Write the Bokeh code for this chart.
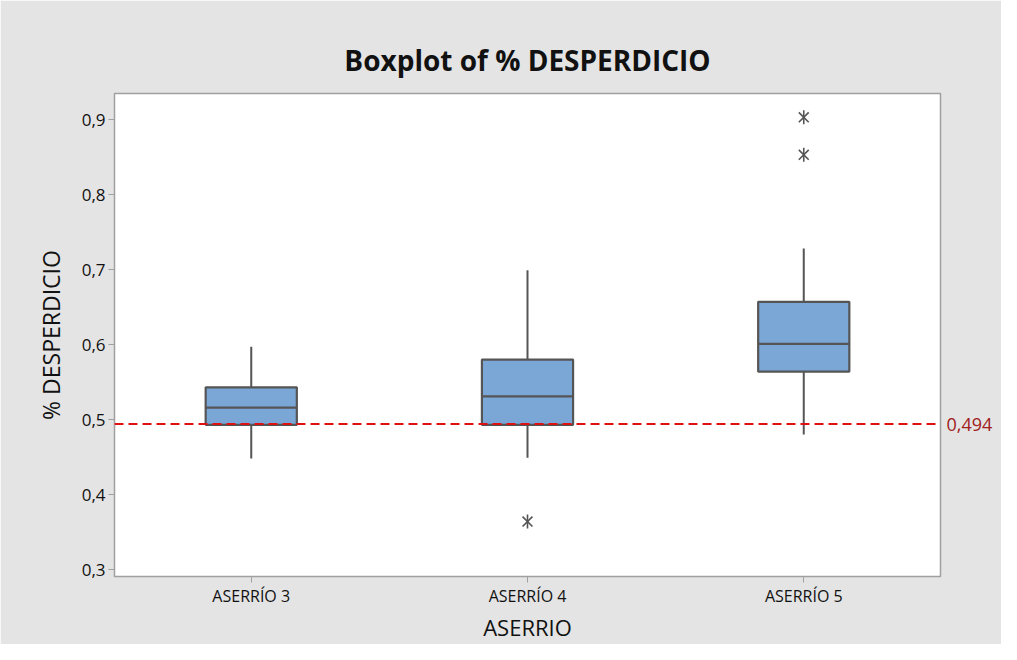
import math
from bokeh.plotting import figure
from bokeh.models import (Range1d, FixedTicker, CustomJSTickFormatter, LinearAxis,
                          Span, ColumnDataSource)
from bokeh.embed import file_html
from bokeh.resources import INLINE

# ---- data ----
categories = ["ASERRÍO 3", "ASERRÍO 4", "ASERRÍO 5"]
whisker_low = [0.448, 0.449, 0.480]
q1 = [0.493, 0.493, 0.564]
median = [0.516, 0.531, 0.601]
q3 = [0.543, 0.580, 0.657]
whisker_high = [0.597, 0.699, 0.728]
outlier_cat = ["ASERRÍO 4", "ASERRÍO 5", "ASERRÍO 5"]
outlier_val = [0.364, 0.903, 0.853]
y_ticks = [0.3, 0.4, 0.5, 0.6, 0.7, 0.8, 0.9]
ref_value = 0.494
ref_label = "0,494"

FONT = "Open Sans"
GRAY_BG = "#E4E4E4"
BOX_FILL = "#7BA7D7"
EDGE = "#555555"

xs = [i + 1 for i in range(len(categories))]
xo = [categories.index(c) + 1 for c in outlier_cat]
bw = 0.33

p = figure(width=1001, height=644, output_backend="svg", toolbar_location=None,
           x_range=Range1d(0.505, 3.495), y_range=Range1d(0.2907, 0.9347),
           title="Boxplot of % DESPERDICIO",
           min_border_left=114, min_border_right=61, min_border_top=93,
           min_border_bottom=68)
p.background_fill_color = "white"
p.border_fill_color = GRAY_BG
p.outline_line_color = "#A0A0A0"
p.outline_line_width = 1.5
p.grid.visible = False

p.title.text_font = FONT
p.title.text_font_size = "28px"
p.title.text_font_style = "bold"
p.title.text_color = "#111111"
p.title.align = "center"
p.title.standoff = 30

src = ColumnDataSource(dict(x=xs, lo=whisker_low, q1=q1, med=median, q3=q3, hi=whisker_high,
                            x0=[x - bw / 2 for x in xs], x1=[x + bw / 2 for x in xs]))

# reference line
p.add_layout(Span(location=ref_value, dimension="width", line_color="#E01010",
                  line_dash="9 5", line_width=2))

# whiskers
p.segment(x0="x", y0="q3", x1="x", y1="hi", source=src, line_color=EDGE, line_width=2)
p.segment(x0="x", y0="lo", x1="x", y1="q1", source=src, line_color=EDGE, line_width=2)
# boxes
p.vbar(x="x", width=bw, top="q3", bottom="q1", source=src, fill_color=BOX_FILL,
       line_color=EDGE, line_width=2.2)
# medians
p.segment(x0="x0", y0="med", x1="x1", y1="med", source=src, line_color=EDGE, line_width=2.2)
# outliers (six-armed asterisk: X plus vertical stroke)
p.scatter(xo, outlier_val, marker="x", size=14, line_color=EDGE, line_width=1.6)
p.scatter(xo, outlier_val, marker="dash", angle=math.pi / 2, size=14,
          line_color=EDGE, line_width=1.6)

# axes
xa = p.xaxis[0]
xa.ticker = FixedTicker(ticks=xs)
xa.major_label_overrides = {x: c for x, c in zip(xs, categories)}
xa.axis_label = "ASERRIO"
xa.axis_label_text_font = FONT
xa.axis_label_text_font_size = "22px"
xa.axis_label_text_font_style = "normal"
xa.axis_label_text_color = "#111111"
xa.axis_label_standoff = 2
xa.major_label_text_font = FONT
xa.major_label_text_font_size = "16px"
xa.major_label_text_color = "#111111"
xa.major_label_standoff = 2
xa.axis_line_color = "#A0A0A0"
xa.major_tick_line_color = "#A0A0A0"
xa.major_tick_out = 6
xa.major_tick_in = 0
xa.minor_tick_line_color = None

ya = p.yaxis[0]
ya.ticker = FixedTicker(ticks=y_ticks)
ya.formatter = CustomJSTickFormatter(code="return tick.toFixed(1).replace('.', ',');")
ya.axis_label = "% DESPERDICIO"
ya.axis_label_text_font = FONT
ya.axis_label_text_font_size = "23px"
ya.axis_label_text_font_style = "normal"
ya.axis_label_text_color = "#111111"
ya.axis_label_standoff = 12
ya.major_label_text_font = FONT
ya.major_label_text_font_size = "17px"
ya.major_label_text_color = "#111111"
ya.major_label_standoff = 3
ya.axis_line_color = "#A0A0A0"
ya.major_tick_line_color = "#A0A0A0"
ya.major_tick_out = 6
ya.major_tick_in = 0
ya.minor_tick_line_color = None

ra = LinearAxis(ticker=FixedTicker(ticks=[ref_value]),
                major_label_overrides={ref_value: ref_label})
ra.axis_line_color = None
ra.major_tick_line_color = None
ra.minor_tick_line_color = None
ra.major_tick_out = 0
ra.major_label_standoff = 6
ra.major_label_text_font = FONT
ra.major_label_text_font_size = "18px"
ra.major_label_text_color = "#A02020"
p.add_layout(ra, "right")

open("out.html", "w").write(file_html(p, INLINE))
